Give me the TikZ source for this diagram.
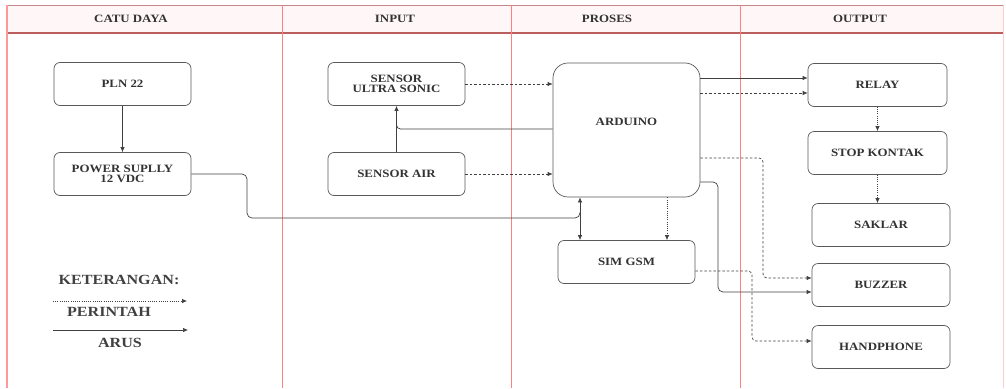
\documentclass[tikz,border=0pt]{standalone}
\usepackage{fontspec}
\setmainfont{Liberation Serif}[FakeStretch=1.15]
\usetikzlibrary{arrows.meta}

\begin{document}
\begin{tikzpicture}[x=1pt,y=-1pt,
  blok/.style={draw=black!65, line width=0.7pt, rounded corners=6pt,
    minimum width=137pt, minimum height=43pt, align=center, inner sep=1pt,
    font=\fontsize{11.2}{10.5}\selectfont\bfseries, text=black!80},
  judul/.style={font=\fontsize{11.2}{11}\selectfont\bfseries, text=black!80},
  ket/.style={font=\fontsize{14}{15}\selectfont\bfseries, text=black!75},
  garis/.style={draw=black!75, line width=0.7pt},
  arus/.style={garis, -{Latex[length=5pt,width=4.5pt]}},
  perintah/.style={arus, dash pattern=on 2.5pt off 2pt},
  titik/.style={arus, dash pattern=on 1pt off 1.2pt},
  kolom/.style={draw=red!50, line width=0.5pt}]

  \useasboundingbox (0,0) rectangle (1006,388);

  % kerangka tabel
  \fill[red!3] (7,5) rectangle (1003,33);
  \draw[red!35!gray!70, line width=0.8pt] (7,5) -- (1003,5);
  \draw[red!40!gray!90, line width=1.2pt] (7,33) -- (1003,33);
  \draw[red!40, line width=1.5pt] (7,5) -- (7,388);
  \draw[red!20] (1003,5) -- (1003,388);
  \foreach \x in {282,511,740}
    \draw[kolom] (\x,5) -- (\x,388);

  \node[judul] (hcatu) at (131,19) {CATU DAYA};
  \node[judul] (hinput) at (395,19) {INPUT};
  \node[judul] (hproses) at (607,19) {PROSES};
  \node[judul] (houtput) at (860,19) {OUTPUT};

  % blok
  \node[blok] (pln) at (122.5,84) {PLN 22};
  \node[blok] (psu) at (122.5,174) {POWER SUPLLY\\12 VDC};
  \node[blok] (ultra) at (396.5,84) {SENSOR\\ULTRA SONIC};
  \node[blok] (air) at (396.5,174) {SENSOR AIR};
  \node[blok, rounded corners=15pt, minimum width=147pt, minimum height=134pt,
    label={[judul, yshift=8pt]center:ARDUINO}] (ard) at (626.5,130) {};
  \node[blok] (sim) at (626.5,262) {SIM GSM};
  \node[blok, minimum width=139pt] (relay) at (877.5,85) {RELAY};
  \node[blok, minimum width=139pt] (stop) at (877.5,153) {STOP KONTAK};
  \node[blok, minimum width=138pt] (saklar) at (881,225) {SAKLAR};
  \node[blok, minimum width=138pt] (buzzer) at (881,285) {BUZZER};
  \node[blok, minimum width=138pt] (hp) at (881,347) {HANDPHONE};

  % titik bantu
  \coordinate (jn) at (580,218);
  \coordinate (y78) at (0,78);
  \coordinate (y93) at (0,93);
  \coordinate (y129) at (0,129);
  \coordinate (y158) at (0,158);
  \coordinate (y182) at (0,182);
  \coordinate (y271) at (0,271);
  \coordinate (y278) at (0,278);
  \coordinate (y292) at (0,292);
  \coordinate (y341) at (0,341);

  % catu daya
  \draw[arus] (pln) -- (psu);
  \draw[garis, rounded corners=5pt] (psu.east) -- (247,174) -- (247,218) -- (jn) -- (580,212);
  \draw[arus] (jn) -- (jn |- ard.south);
  \draw[arus] (jn) -- (jn |- sim.north);

  % input
  \draw[perintah] (ultra.east) -- (ultra.east -| ard.west);
  \draw[perintah] (air.east) -- (air.east -| ard.west);
  \draw[arus] (air.north) -- (ultra.south);
  \draw[garis, rounded corners=4pt] (ard.west |- y129) -- (396.5,129) -- (396.5,121);

  % output
  \draw[arus] (ard.east |- y78) -- (relay.west |- y78);
  \draw[perintah] (ard.east |- y93) -- (relay.west |- y93);
  \draw[titik] (relay) -- (stop);
  \draw[titik] (stop.south) -- (stop.south |- saklar.north);
  \draw[perintah, rounded corners=4pt] (ard.east |- y158) -- (763,158) -- (763,278) -- (buzzer.west |- y278);
  \draw[arus, rounded corners=5pt] (ard.east |- y182) -- (718,182) -- (718,292) -- (buzzer.west |- y292);
  \draw[titik] (ard.south -| 667,0) -- (sim.north -| 667,0);
  \draw[perintah, rounded corners=4pt] (sim.east |- y271) -- (752,271) -- (752,341) -- (hp.west |- y341);

  % keterangan
  \node[ket] (keterangan) at (119,280) {KETERANGAN:};
  \coordinate (p1) at (53,301);
  \coordinate (p2) at (187,301);
  \draw[titik] (p1) -- (p2);
  \node[ket] (lblperintah) at (109,312) {PERINTAH};
  \coordinate (a1) at (53,330);
  \coordinate (a2) at (188,330);
  \draw[arus] (a1) -- (a2);
  \node[ket] (lblarus) at (120,343) {ARUS};
\end{tikzpicture}
\end{document}
